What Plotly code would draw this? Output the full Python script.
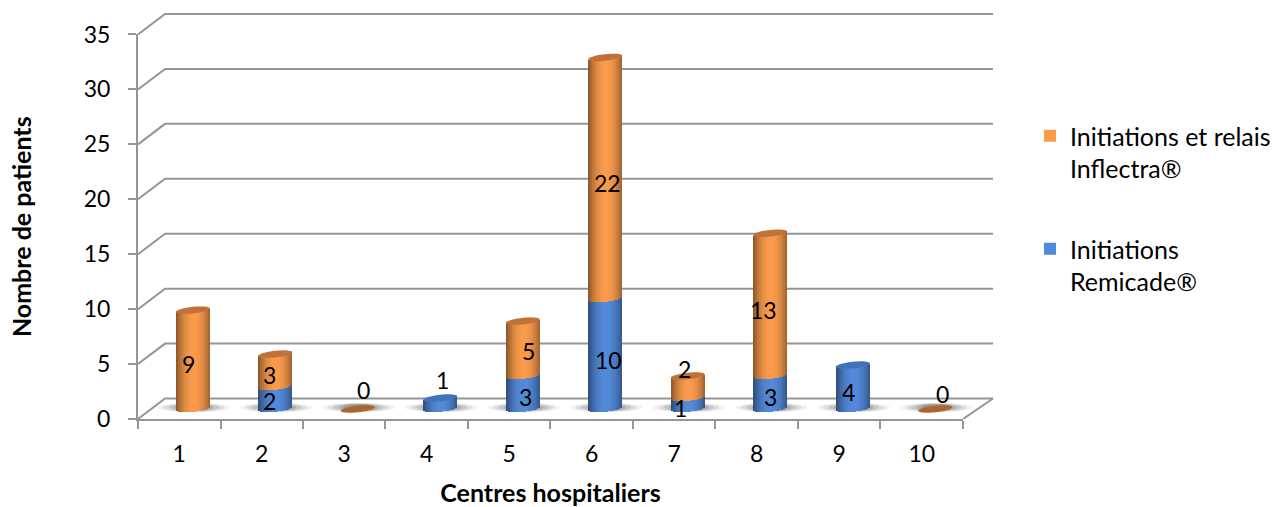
import math
import plotly.graph_objects as go

categories = ["1", "2", "3", "4", "5", "6", "7", "8", "9", "10"]
inflectra = [9, 3, 0, 0, 5, 22, 2, 13, 0, 0]
remicade = [0, 2, 0, 1, 3, 10, 1, 3, 4, 0]
y_ticks = [0, 5, 10, 15, 20, 25, 30, 35]
name_inflectra = "Initiations et relais<br>Inflectra®"
name_remicade = "Initiations<br>Remicade®"

# ---- geometry (pixels of the 1286x507 page) ----
L, R, T, B = 138.0, 962.5, 34.5, 419.5
PX = (R - L) / 10
PY = (B - T) / 35
ux = lambda px: px / PX
uy = lambda px: px / PY
FONT = "Lato"
GREY = "#959595"

DEPTH_X, DEPTH_Y = ux(27), uy(20.5)
BACK_RIGHT = 10.5 + ux(30)
CYL_DX = ux(13.5)
CYL_HALF = ux(17)
BASE = uy(10)
ELL_H = uy(3.3)
TILT = uy(1.8)
N = 17

# hidden "box" axes hold the back walls; the visible axes sit on the front plane
BOX_X = BACK_RIGHT + ux(1)
BOX_Y = 35 + DEPTH_Y + uy(1)
R_BOX = L + (BOX_X - 0.5) * PX
T_BOX = B - BOX_Y * PY


def shade(rgb, u):
    k = 1 - 0.42 * abs(u - 0.05) ** 2.0
    return "rgb(%d,%d,%d)" % tuple(c * k for c in rgb)


ORANGE = (250, 156, 76)
BLUE = (84, 138, 218)
ORANGE_TOP = "#C0723A"
BLUE_TOP = "#3F73BC"
ZERO_TOP = "#A9662E"

fig = go.Figure()

for v in y_ticks:
    fig.add_trace(go.Scatter(
        x=[0.5, 0.5 + DEPTH_X, BACK_RIGHT], y=[v, v + DEPTH_Y, v + DEPTH_Y],
        mode="lines", line=dict(color=GREY, width=2), hoverinfo="skip",
        showlegend=False, xaxis="x", yaxis="y"))
fig.add_trace(go.Scatter(
    x=[10.5, BACK_RIGHT], y=[0, DEPTH_Y], mode="lines",
    line=dict(color=GREY, width=2), hoverinfo="skip", showlegend=False,
    xaxis="x", yaxis="y"))


def strips(values, bottoms, rgb, name):
    for i in range(N):
        u = -1 + (2 * i + 1) / N
        drop = ELL_H * math.sqrt(max(0, 1 - u * u)) - TILT * u
        fig.add_trace(go.Bar(
            x=categories, y=values,
            base=[b - drop for b in bottoms],
            width=2 * CYL_HALF / N + 0.002,
            offset=CYL_DX + CYL_HALF * u - CYL_HALF / N - 0.001,
            marker=dict(color=shade(rgb, u), line=dict(width=0)),
            name=name, legendgroup=name, showlegend=(i == N // 2),
            hoverinfo="skip", xaxis="x2", yaxis="y2"))


bottom_blue = [BASE] * len(categories)
bottom_orange = [BASE + r for r in remicade]
strips(inflectra, bottom_orange, ORANGE, name_inflectra)
strips(remicade, bottom_blue, BLUE, name_remicade)


def ellipse_path(cx, cy, a, b, tilt):
    pts = []
    for k in range(40):
        t = 2 * math.pi * k / 40
        pts.append((cx + a * math.cos(t), cy + b * math.sin(t) + tilt * math.cos(t)))
    return "M" + "L".join(f"{x:.4f},{y:.4f}" for x, y in pts) + "Z"


shapes = []
# soft shadows on the floor
for i in range(len(categories)):
    cx = i + 1 + CYL_DX + ux(1)
    for scale, op in ((1.0, 0.08), (0.85, 0.12), (0.7, 0.16), (0.55, 0.2), (0.42, 0.25)):
        shapes.append(dict(
            type="path", xref="x", yref="y", layer="below",
            path=ellipse_path(cx, BASE + uy(1.5), ux(36) * scale, uy(4.5) * (0.55 + scale * 0.45), 0),
            fillcolor=f"rgba(80,80,80,{op})", line=dict(width=0)))
# top faces
for i in range(len(categories)):
    total = inflectra[i] + remicade[i]
    if total == 0:
        col = ZERO_TOP
    elif inflectra[i] > 0:
        col = ORANGE_TOP
    else:
        col = BLUE_TOP
    shapes.append(dict(
        type="path", xref="x", yref="y", layer="above",
        path=ellipse_path(i + 1 + CYL_DX, BASE + total, CYL_HALF, ELL_H, TILT),
        fillcolor=col, line=dict(width=0)))

# data labels: centred on their segment, with the hand placed nudges of the original
nudge_inflectra = [(-4, 4.5), (-6, 4.5), (6, -19), None, (6, 2.5), (2, 5), (-3, -18), (-7, 5.5), None, (7, -15)]
nudge_remicade = [None, (-6, 3), None, (2, -24), (3, 4.5), (3, 6), (-7, 4.5), (0, 4.5), (-4, 5), None]
annotations = []
for i in range(len(categories)):
    for vals, bottoms, nudge in ((inflectra, bottom_orange, nudge_inflectra),
                                 (remicade, bottom_blue, nudge_remicade)):
        if nudge[i] is None:
            continue
        annotations.append(dict(
            x=i + 1 + CYL_DX, y=bottoms[i] + vals[i] / 2, xref="x", yref="y",
            text=str(vals[i]), showarrow=False, xanchor="center", yanchor="middle",
            xshift=nudge[i][0], yshift=-nudge[i][1],
            font=dict(family=FONT, size=23, color="black")))

fig.update_layout(
    width=1286, height=507,
    autosize=False,
    paper_bgcolor="white", plot_bgcolor="rgba(0,0,0,0)",
    barmode="overlay", bargap=0,
    margin=dict(l=L, r=1286 - R_BOX, t=T_BOX, b=507 - B, pad=0, autoexpand=False),
    font=dict(family=FONT, size=23, color="black"),
    shapes=shapes, annotations=annotations,
    xaxis=dict(range=[0.5, BOX_X], visible=False, fixedrange=True, domain=[0, 1], anchor="y"),
    yaxis=dict(range=[0, BOX_Y], visible=False, fixedrange=True, domain=[0, 1], anchor="x"),
    xaxis2=dict(
        type="category", categoryorder="array", categoryarray=categories,
        range=[-0.5, 9.5], domain=[0, (R - L) / (R_BOX - L)], anchor="y2", side="bottom",
        tickson="boundaries", ticks="outside", ticklen=8, tickwidth=2, tickcolor=GREY,
        ticklabelstandoff=13,
        showline=True, linecolor=GREY, linewidth=2, showgrid=False, zeroline=False,
        tickfont=dict(family=FONT, size=23, color="black"),
        title=dict(text="<b>Centres hospitaliers</b>", standoff=29,
                   font=dict(family=FONT, size=25, color="black")),
        fixedrange=True),
    yaxis2=dict(
        range=[0, 35], domain=[0, 35 / BOX_Y], tickmode="array", tickvals=y_ticks,
        ticks="outside", ticklen=8,
        tickwidth=2, tickcolor=GREY, showline=True, linecolor=GREY, linewidth=2,
        ticklabelstandoff=13,
        showgrid=False, zeroline=False, anchor="x2",
        tickfont=dict(family=FONT, size=23, color="black"),
        title=dict(text="<b>Nombre de patients</b>", standoff=45,
                   font=dict(family=FONT, size=25, color="black")),
        fixedrange=True),
    legend=dict(
        xref="container", yref="container", x=1030 / 1286, y=1 - 113 / 507,
        xanchor="left", yanchor="top", bgcolor="rgba(0,0,0,0)", valign="top",
        font=dict(family=FONT, size=25, color="black"),
        tracegroupgap=45, traceorder="grouped", itemclick=False, itemdoubleclick=False),
)

fig.write_html("out.html", config={"displayModeBar": False},
               post_script="document.body.style.margin='0';")
